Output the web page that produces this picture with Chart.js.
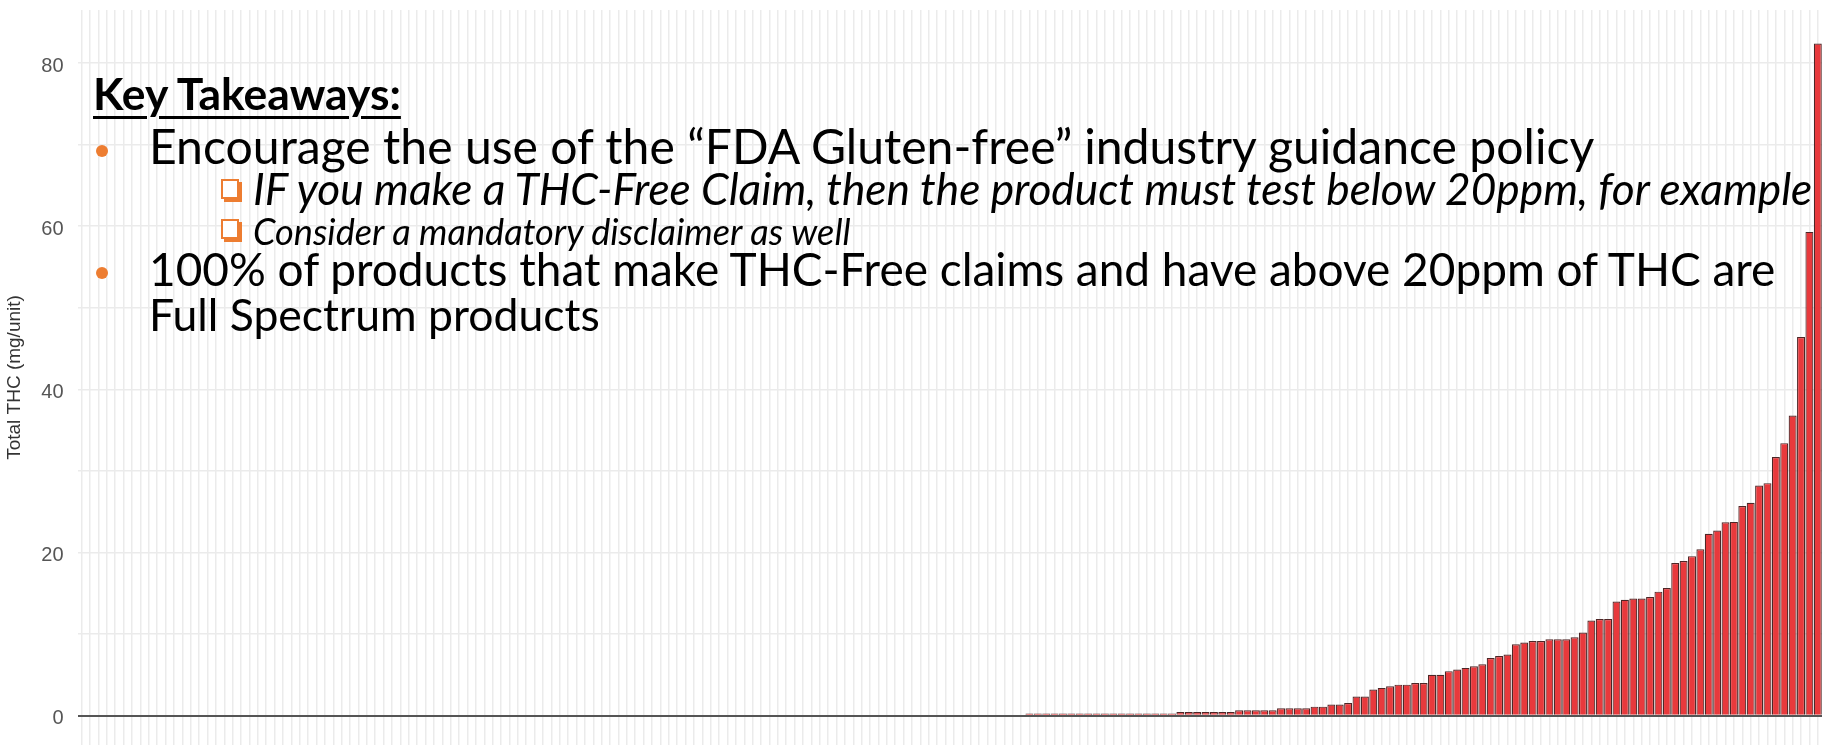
<!DOCTYPE html>
<html>
<head>
<meta charset="utf-8">
<title>Total THC per unit</title>
<script src="https://cdn.jsdelivr.net/npm/chart.js@4.4.1/dist/chart.umd.min.js"></script>
<style>
  html, body { margin: 0; padding: 0; background: #fff; }
  #wrap { position: relative; width: 1822px; height: 745px; overflow: hidden; }
  #thcChart { position: absolute; left: 0; top: 0; }
  .note { position: absolute; left: 0; top: 0; width: 1822px; height: 745px; pointer-events: none;
          font-family: Lato, "Open Sans", sans-serif; color: #000; }
  .line { position: absolute; white-space: nowrap; line-height: 1; font-size: 40px; }
  .heading { font-weight: bold; text-decoration: underline; text-decoration-thickness: 3px; text-underline-offset: 6px; }
  .sub { font-style: italic; }
  .dot { position: absolute; width: 12px; height: 12px; border-radius: 50%; background: #ED7D31; }
  .box { position: absolute; width: 14px; height: 16px; border: 2px solid #ED7D31; box-shadow: 3px 3px 0 #ED7D31; background: #fff; }
</style>
</head>
<body>
<div id="wrap">
  <canvas id="thcChart" width="1822" height="745"></canvas>
  <div class="note">
    <div class="line heading" data-x="93" data-base="110" data-w="308">Key Takeaways:</div>
    <span class="dot" style="left:96px; top:145px;"></span>
    <div class="line" data-x="149" data-base="164" data-w="1446">Encourage the use of the “FDA Gluten-free” industry guidance policy</div>
    <span class="dot" style="left:96px; top:267px;"></span>
    <span class="box" style="left:221px; top:179px;"></span>
    <div class="line sub" data-x="253" data-base="205" data-w="1560">IF you make a THC-Free Claim, then the product must test below 20ppm, for example</div>
    <span class="box" style="left:221px; top:219px;"></span>
    <div class="line sub" data-x="253" data-base="245" data-w="598">Consider a mandatory disclaimer as well</div>
    <div class="line" data-x="149" data-base="287" data-w="1627">100% of products that make THC-Free claims and have above 20ppm of THC are</div>
    <div class="line" data-x="149" data-base="332" data-w="451">Full Spectrum products</div>
  </div>
</div>
<script>
// Total THC per unit, products sorted ascending
const totalThc = [
  0, 0, 0, 0, 0, 0, 0, 0, 0, 0,
  0, 0, 0, 0, 0, 0, 0, 0, 0, 0,
  0, 0, 0, 0, 0, 0, 0, 0, 0, 0,
  0, 0, 0, 0, 0, 0, 0, 0, 0, 0,
  0, 0, 0, 0, 0, 0, 0, 0, 0, 0,
  0, 0, 0, 0, 0, 0, 0, 0, 0, 0,
  0, 0, 0, 0, 0, 0, 0, 0, 0, 0,
  0, 0, 0, 0, 0, 0, 0, 0, 0, 0,
  0, 0, 0, 0, 0, 0, 0, 0, 0, 0,
  0, 0, 0, 0, 0, 0, 0, 0, 0, 0,
  0, 0, 0, 0, 0, 0, 0, 0, 0, 0,
  0, 0, 0,
  0.25, 0.25, 0.25, 0.25, 0.25, 0.25, 0.25, 0.25, 0.25, 0.25,
  0.25, 0.25, 0.25, 0.25, 0.25, 0.25, 0.25, 0.25,
  0.45, 0.45, 0.45, 0.45, 0.45, 0.45, 0.45,
  0.65, 0.65, 0.65, 0.65, 0.65,
  0.9, 0.9, 0.9, 0.9,
  1.1, 1.1, 1.35, 1.35, 1.55,
  2.35, 2.35, 3.2, 3.4, 3.6, 3.8, 3.8, 4.0, 4.0,
  5.0, 5.0, 5.45, 5.65, 5.85, 6.05, 6.3, 7.05, 7.3, 7.5,
  8.75, 8.95, 9.15, 9.15, 9.35, 9.35, 9.35, 9.6, 10.2,
  11.65, 11.85, 11.85, 14.0, 14.2, 14.35, 14.35, 14.55, 15.2, 15.65,
  18.7, 18.95, 19.55, 20.4, 22.3, 22.7, 23.7, 23.75,
  25.7, 26.1, 28.2, 28.5, 31.7, 33.4, 36.8, 46.4, 59.3, 82.4
];
const productIds = totalThc.map((_, i) => 'Product ' + (i + 1));
const gridValues = [0, 10, 20, 30, 40, 50, 60, 70, 80];
const labelValues = [0, 20, 40, 60, 80];

// fit the takeaway lines to their width in the slide and set them on their baseline
document.querySelectorAll('.note .line').forEach(el => {
    const size = parseFloat(getComputedStyle(el).fontSize);
    const fitted = size * el.dataset.w / el.getBoundingClientRect().width;
    el.style.fontSize = fitted + 'px';
    el.style.left = el.dataset.x + 'px';
    el.style.top = (el.dataset.base - 0.887 * fitted) + 'px';
});

const ctx = document.getElementById('thcChart').getContext('2d');
new Chart(ctx, {
    type: 'bar',
    data: {
        labels: productIds,
        datasets: [{
            label: 'Total THC (mg/unit)',
            data: totalThc,
            backgroundColor: '#E8393C',
            borderColor: '#4E2626',
            borderWidth: 1.2,
            barPercentage: 0.95,
            categoryPercentage: 1
        }]
    },
    options: {
        responsive: false,
        animation: false,
        layout: { padding: { top: 10, right: 0, bottom: 0, left: 0 } },
        plugins: {
            legend: { display: false },
            tooltip: { enabled: false }
        },
        scales: {
            x: {
                offset: true,
                afterFit: scale => {
                    scale.height = 0;
                    scale.paddingLeft = 0;
                    scale.paddingRight = 0;
                },
                grid: { offset: false, color: '#ebebeb', lineWidth: 1.5, drawTicks: false },
                border: { display: false },
                ticks: { display: false, autoSkip: false }
            },
            y: {
                min: -3.6,
                max: 86.5,
                afterBuildTicks: scale => { scale.ticks = gridValues.map(v => ({ value: v })); },
                afterFit: scale => {
                    scale.width = 77.5;
                    scale.paddingTop = 0;
                    scale.paddingBottom = 0;
                },
                ticks: {
                    padding: 14,
                    labelOffset: 3,
                    color: '#555555',
                    font: { family: 'Liberation Sans', size: 20 },
                    callback: value => labelValues.includes(value) ? value : ''
                },
                grid: {
                    drawTicks: false,
                    color: c => c.tick && c.tick.value === 0 ? '#555555' : '#ebebeb',
                    lineWidth: c => c.tick && c.tick.value === 0 ? 2 : 1.5
                },
                border: { display: false },
                title: {
                    display: true,
                    text: 'Total THC (mg/unit)',
                    color: '#333333',
                    font: { family: 'Liberation Sans', size: 19 },
                    padding: { top: 3, bottom: 0 }
                }
            }
        }
    }
});
</script>
</body>
</html>
